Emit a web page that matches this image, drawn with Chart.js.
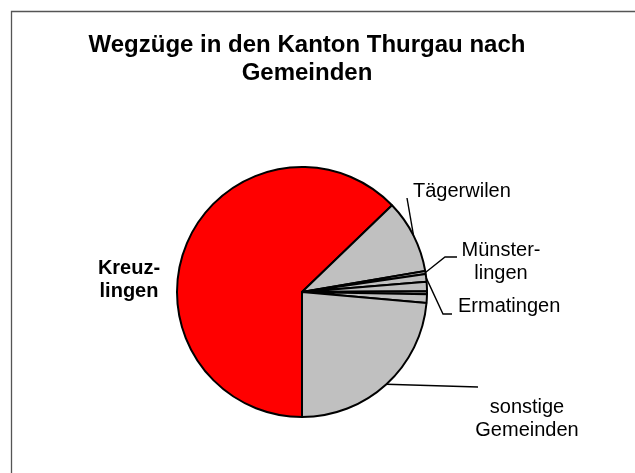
<!DOCTYPE html>
<html>
<head>
<meta charset="utf-8">
<script src="https://cdn.jsdelivr.net/npm/chart.js@4.4.1/dist/chart.umd.min.js"></script>
<style>
  html, body { margin: 0; padding: 0; background: #fff; }
  #wrap { width: 635px; height: 473px; position: relative; }
</style>
</head>
<body>
<div id="wrap"><canvas id="pie" width="635" height="473"></canvas></div>
<script>
// Anteile in Prozent, im Uhrzeigersinn ab "6 Uhr"
const gemeinden = ["Kreuzlingen", "Tägerwilen", "Münsterlingen", "Ermatingen", "", "", "", "sonstige Gemeinden"];
const anteile = [62.8, 9.5, 0.4, 1.0, 1.2, 0.4, 1.1, 23.6];
const farben = ["#ff0000", "#c0c0c0", "#c0c0c0", "#c0c0c0", "#c0c0c0", "#c0c0c0", "#c0c0c0", "#c0c0c0"];
const titelZeilen = ["Wegzüge in den Kanton Thurgau nach", "Gemeinden"];

// label layout, offsets relative to pie centre
const labelLayout = {
  0: { lines: ["Kreuz-", "lingen"], bold: true, align: "center", x: -173, y: -24, leader: null },
  1: { lines: ["Tägerwilen"], align: "left", x: 111, y: -101, leader: [[105, -94]] },
  2: { lines: ["Münster-", "lingen"], align: "center", x: 199, y: -42, leader: [[143, -35], [155, -35]] },
  3: { lines: ["Ermatingen"], align: "left", x: 156, y: 14, leader: [[141, 22], [150, 22]] },
  7: { lines: ["sonstige", "Gemeinden"], align: "center", x: 225, y: 115, leader: [[176, 95]] }
};

const labelPlugin = {
  id: "pieLabels",
  afterDraw(chart) {
    const ctx = chart.ctx;
    const meta = chart.getDatasetMeta(0);
    const first = meta.data[0];
    const cx = first.x, cy = first.y;

    ctx.save();
    // frame
    ctx.strokeStyle = "#555";
    ctx.lineWidth = 1.3;
    ctx.beginPath();
    ctx.moveTo(11.5, chart.height);
    ctx.lineTo(11.5, 11.5);
    ctx.lineTo(chart.width, 11.5);
    ctx.stroke();

    // title
    ctx.fillStyle = "#000";
    ctx.textAlign = "center";
    ctx.textBaseline = "middle";
    ctx.font = "bold 24px 'Liberation Sans', Arial, sans-serif";
    titelZeilen.forEach((t, i) => ctx.fillText(t, 307, 45 + i * 28));

    // labels and leader lines
    Object.keys(labelLayout).forEach(k => {
      const arc = meta.data[+k];
      const L = labelLayout[k];
      if (L.leader) {
        const mid = (arc.startAngle + arc.endAngle) / 2;
        ctx.strokeStyle = "#000";
        ctx.lineWidth = 1.4;
        ctx.beginPath();
        ctx.moveTo(cx + Math.cos(mid) * arc.outerRadius, cy + Math.sin(mid) * arc.outerRadius);
        L.leader.forEach(p => ctx.lineTo(cx + p[0], cy + p[1]));
        ctx.stroke();
      }
      ctx.fillStyle = "#000";
      ctx.textAlign = L.align;
      ctx.textBaseline = "middle";
      ctx.font = (L.bold ? "bold " : "") + "20px 'Liberation Sans', Arial, sans-serif";
      L.lines.forEach((t, i) => ctx.fillText(t, cx + L.x, cy + L.y + i * 23));
    });
    ctx.restore();
  }
};

new Chart(document.getElementById("pie"), {
  type: "pie",
  data: {
    labels: gemeinden,
    datasets: [{
      data: anteile,
      backgroundColor: farben,
      borderColor: "#000",
      borderWidth: 2,
      borderAlign: "center"
    }]
  },
  options: {
    responsive: false,
    animation: false,
    rotation: 180,
    radius: 125,
    layout: { padding: { left: 0, right: 31, top: 111, bottom: 0 } },
    plugins: {
      legend: { display: false },
      tooltip: { enabled: false },
      title: { display: false }
    }
  },
  plugins: [labelPlugin]
});
</script>
</body>
</html>
